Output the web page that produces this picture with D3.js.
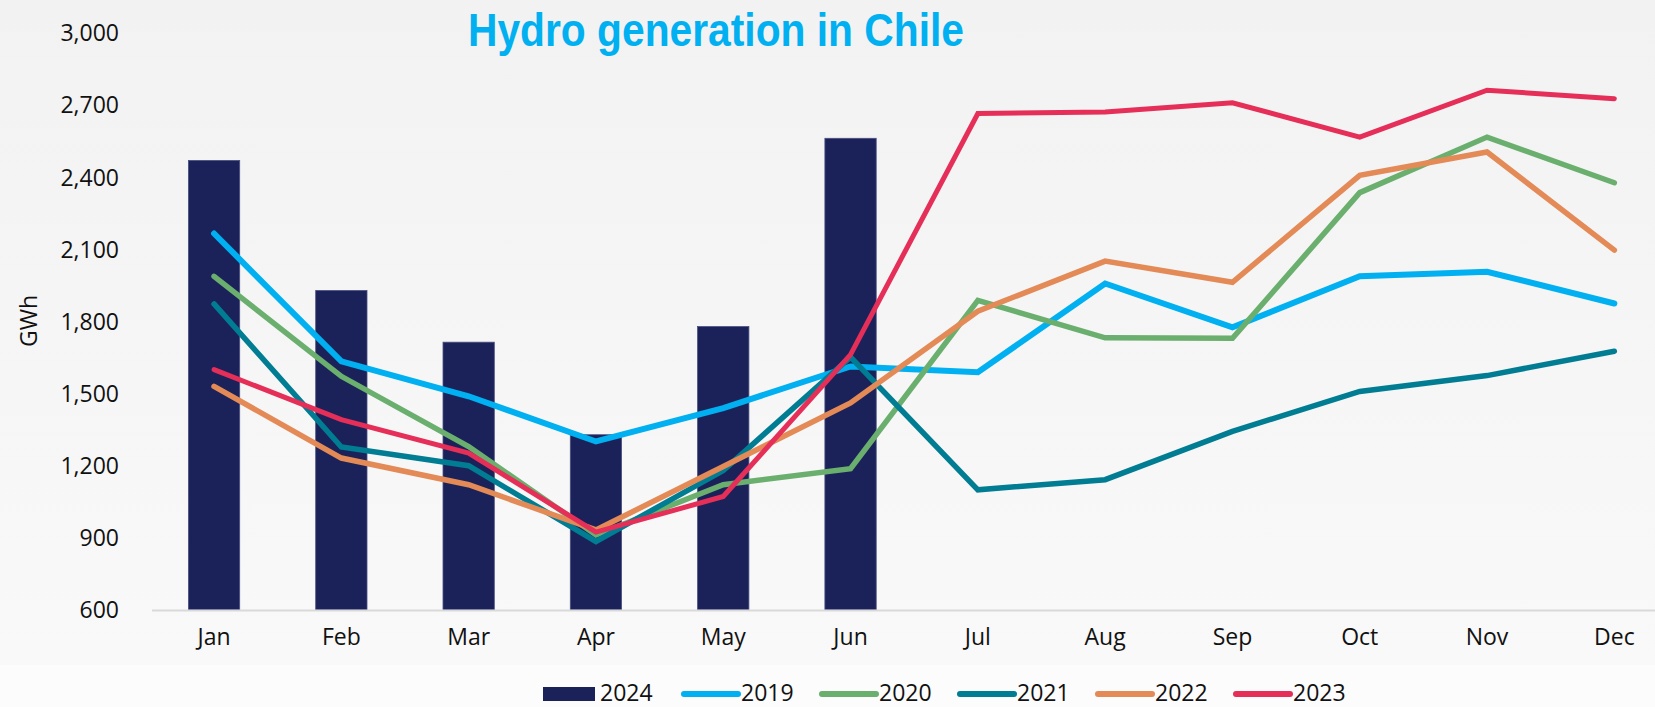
<!DOCTYPE html>
<html>
<head>
<meta charset="utf-8">
<script src="https://cdn.jsdelivr.net/npm/d3@7"></script>
<style>
  html, body { margin: 0; padding: 0; background: #fcfcfc; }
  svg { display: block; }
</style>
</head>
<body>
<div id="chart"></div>
<script>
// Monthly hydro generation (GWh)
const months = ['Jan', 'Feb', 'Mar', 'Apr', 'May', 'Jun', 'Jul', 'Aug', 'Sep', 'Oct', 'Nov', 'Dec'];
const gen2024 = [2470, 1929, 1714, 1329, 1779, 2562];
const gen2019 = [2166, 1634, 1489, 1301, 1440, 1613, 1589, 1958, 1776, 1988, 2007, 1875];
const gen2020 = [1988, 1572, 1280, 912, 1121, 1188, 1888, 1732, 1730, 2336, 2567, 2377];
const gen2021 = [1873, 1278, 1200, 885, 1180, 1652, 1100, 1142, 1343, 1509, 1575, 1676];
const gen2022 = [1530, 1232, 1121, 933, 1197, 1461, 1843, 2051, 1963, 2408, 2505, 2097];
const gen2023 = [1600, 1392, 1253, 924, 1072, 1662, 2665, 2671, 2710, 2567, 2762, 2727];
const yTicks = [600, 900, 1200, 1500, 1800, 2100, 2400, 2700, 3000];

const series = [
    { name: '2019', values: gen2019, color: '#00b0f0', width: 6 },
    { name: '2020', values: gen2020, color: '#6aaf6e', width: 5.5 },
    { name: '2021', values: gen2021, color: '#007d92', width: 5.5 },
    { name: '2022', values: gen2022, color: '#e38a57', width: 5.5 },
    { name: '2023', values: gen2023, color: '#e52f58', width: 5 }
];
const barColor = '#1b2259';

const W = 1655, H = 707;
const font = '"Open Sans", "Noto Sans", sans-serif';

const svg = d3.select('#chart')
    .append('svg')
    .attr('width', W)
    .attr('height', H);

// Background gradient
const grad = svg.append('defs').append('linearGradient')
    .attr('id', 'bg')
    .attr('x1', 0).attr('y1', 0).attr('x2', 0).attr('y2', 1);
grad.append('stop').attr('offset', '0%').attr('stop-color', '#f2f2f2');
grad.append('stop').attr('offset', '100%').attr('stop-color', '#f9f9f9');

svg.append('rect')
    .attr('width', W)
    .attr('height', 665)
    .attr('fill', 'url(#bg)');

const x = d3.scaleBand()
    .domain(months)
    .range([150.4, 1678])
    .paddingInner(0.597)
    .paddingOuter(0.2985);

const y = d3.scaleLinear()
    .domain([600, 3000])
    .range([610, 33]);

const cx = m => x(m) + x.bandwidth() / 2;

// Y axis labels
svg.append('g')
    .selectAll('text')
    .data(yTicks)
    .enter()
    .append('text')
    .attr('x', 119)
    .attr('y', d => y(d))
    .attr('dy', '0.36em')
    .attr('text-anchor', 'end')
    .style('font-family', font)
    .style('font-size', '23px')
    .attr('fill', '#111')
    .text(d => d3.format(',')(d));

svg.append('text')
    .attr('transform', 'translate(37,321) rotate(-90)')
    .attr('text-anchor', 'middle')
    .style('font-family', font)
    .style('font-size', '23px')
    .attr('fill', '#111')
    .text('GWh');

// Bars for 2024
svg.selectAll('.bar')
    .data(gen2024)
    .enter()
    .append('rect')
    .attr('class', 'bar')
    .attr('x', (d, i) => x(months[i]))
    .attr('y', d => y(d))
    .attr('width', x.bandwidth())
    .attr('height', d => y(600) - y(d))
    .attr('fill', barColor)
    .attr('stroke', '#4a5080')
    .attr('stroke-width', 0.8);

// X axis line + month labels
svg.append('line')
    .attr('x1', 152)
    .attr('x2', W)
    .attr('y1', 610.5)
    .attr('y2', 610.5)
    .attr('stroke', '#d9d9d9')
    .attr('stroke-width', 2);

svg.append('g')
    .selectAll('text')
    .data(months)
    .enter()
    .append('text')
    .attr('x', d => cx(d))
    .attr('y', 645)
    .attr('text-anchor', 'middle')
    .style('font-family', font)
    .style('font-size', '23px')
    .attr('fill', '#111')
    .text(d => d);

// Lines
const line = d3.line()
    .x((d, i) => cx(months[i]))
    .y(d => y(d));

series.forEach(s => {
    svg.append('path')
        .datum(s.values)
        .attr('d', line)
        .attr('fill', 'none')
        .attr('stroke', s.color)
        .attr('stroke-width', s.width)
        .attr('stroke-linecap', 'round')
        .attr('stroke-linejoin', 'miter');
});

// Title
svg.append('text')
    .attr('x', 716)
    .attr('y', 46)
    .attr('text-anchor', 'middle')
    .attr('textLength', 496)
    .attr('lengthAdjust', 'spacingAndGlyphs')
    .style('font-family', '"Liberation Sans", Arial, sans-serif')
    .style('font-weight', 'bold')
    .style('font-size', '47px')
    .attr('fill', '#00b0f0')
    .text('Hydro generation in Chile');

// Legend
const legendItems = [{ name: '2024', color: barColor, bar: true }].concat(series);
const legend = svg.append('g');
legendItems.forEach((item, i) => {
    const lx = 543 + i * 138;
    if (item.bar) {
        legend.append('rect')
            .attr('x', lx)
            .attr('y', 687)
            .attr('width', 52)
            .attr('height', 14)
            .attr('fill', item.color);
    } else {
        legend.append('line')
            .attr('x1', lx + 3)
            .attr('x2', lx + 57)
            .attr('y1', 694)
            .attr('y2', 694)
            .attr('stroke', item.color)
            .attr('stroke-width', 6)
            .attr('stroke-linecap', 'round');
    }
    legend.append('text')
        .attr('x', item.bar ? lx + 57 : lx + 60)
        .attr('y', 701)
        .style('font-family', font)
        .style('font-size', '23px')
        .attr('fill', '#111')
        .text(item.name);
});
</script>
</body>
</html>
